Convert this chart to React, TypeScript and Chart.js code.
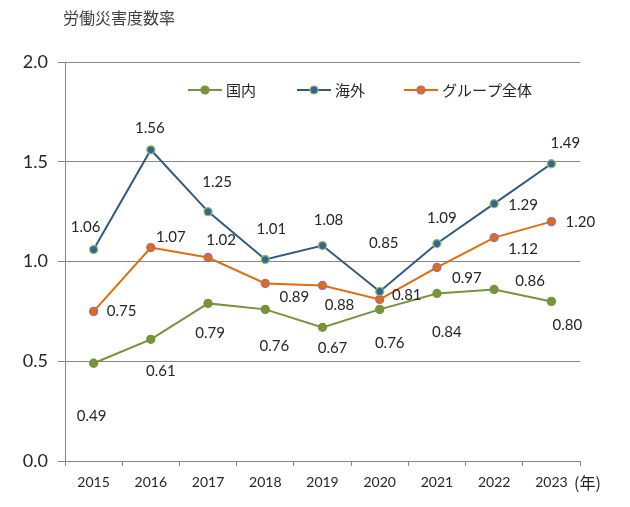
import React, { useRef, useEffect } from "react";
import { Chart, registerables } from "chart.js";

Chart.register(...registerables);

const years = ["2015", "2016", "2017", "2018", "2019", "2020", "2021", "2022", "2023"];
const domestic = [0.49, 0.61, 0.79, 0.76, 0.67, 0.76, 0.84, 0.86, 0.8];
const overseas = [1.06, 1.56, 1.25, 1.01, 1.08, 0.85, 1.09, 1.29, 1.49];
const group = [0.75, 1.07, 1.02, 0.89, 0.88, 0.81, 0.97, 1.12, 1.2];
const yTicks = [0, 0.5, 1.0, 1.5, 2.0];

// label placement (dx, dy from point centre), as hand-placed in the original
const domesticLabelPos = [[-2, 53], [10, 32], [2, 30], [9, 37], [10, 21], [10, 34], [10, 39], [36, -8], [16, 24]];
const overseasLabelPos = [[-8, -22], [-1, -22], [9, -29], [6, -30], [6, -25], [4, -48], [5, -25], [29, 2], [14, -21]];
const groupLabelPos = [[28, 0], [20, -10], [13, -17], [29, 14], [17, 20], [27, -4], [30, 11], [29, 12], [29, 1]];

const GRID = "#878787";
const TEXT = "#262626";
const FONT = "Lato, 'Noto Sans CJK JP', sans-serif";
const JP_FONT = "'Noto Sans CJK JP', Lato, sans-serif";

const labelPlugin = {
  id: "pointLabels",
  afterDatasetsDraw(chart: any) {
    const ctx = chart.ctx;
    ctx.save();
    ctx.font = `15px ${FONT}`;
    ctx.fillStyle = TEXT;
    ctx.textAlign = "center";
    ctx.textBaseline = "middle";
    chart.data.datasets.forEach((ds: any, i: number) => {
      const meta = chart.getDatasetMeta(i);
      meta.data.forEach((pt: any, j: number) => {
        const [dx, dy] = ds.labelPos[j];
        ctx.fillText(Number(ds.data[j]).toFixed(2), pt.x + dx, pt.y + dy);
      });
    });
    ctx.restore();
  },
};

const decorPlugin = {
  id: "decor",
  afterDraw(chart: any) {
    const ctx = chart.ctx;
    const area = chart.chartArea;
    ctx.save();
    // title
    ctx.font = `16px ${JP_FONT}`;
    ctx.fillStyle = "#404040";
    ctx.textAlign = "left";
    ctx.textBaseline = "middle";
    ctx.fillText("労働災害度数率", 63, 18);
    // unit after last category
    ctx.fillStyle = TEXT;
    ctx.fillText("(年)", area.right - 6, 483);
    // legend inside plot
    const items = [
      { x: 188, idx: 0 },
      { x: 297, idx: 1 },
      { x: 404, idx: 2 },
    ];
    const y = 90;
    items.forEach(({ x, idx }) => {
      const ds: any = chart.data.datasets[idx];
      ctx.strokeStyle = ds.borderColor;
      ctx.lineWidth = 2;
      ctx.beginPath();
      ctx.moveTo(x, y);
      ctx.lineTo(x + 34, y);
      ctx.stroke();
      ctx.beginPath();
      ctx.arc(x + 17, y, 4, 0, Math.PI * 2);
      ctx.fillStyle = ds.pointBackgroundColor;
      ctx.fill();
      ctx.lineWidth = 1.2;
      ctx.strokeStyle = ds.pointBorderColor;
      ctx.stroke();
      ctx.fillStyle = TEXT;
      ctx.font = `15px ${JP_FONT}`;
      ctx.textBaseline = "middle";
      ctx.fillText(ds.label, x + 38, y);
    });
    ctx.restore();
  },
};

const App: React.FC = () => {
  const canvasRef = useRef<HTMLCanvasElement | null>(null);
  const chartRef = useRef<Chart | null>(null);

  useEffect(() => {
    if (!canvasRef.current) return;

    chartRef.current = new Chart(canvasRef.current, {
      type: "line",
      data: {
        labels: years,
        datasets: [
          {
            label: "国内",
            data: domestic,
            borderColor: "#77933C",
            pointBackgroundColor: "#77933C",
            pointBorderColor: "#77933C",
            labelPos: domesticLabelPos,
          } as any,
          {
            label: "海外",
            data: overseas,
            borderColor: "#2F5A86",
            pointBackgroundColor: "#31659A",
            pointBorderColor: "#9BBB59",
            labelPos: overseasLabelPos,
          } as any,
          {
            label: "グループ全体",
            data: group,
            borderColor: "#E46C0A",
            pointBackgroundColor: "#E46C0A",
            pointBorderColor: "#9B6AA8",
            labelPos: groupLabelPos,
          } as any,
        ].map((d) => ({
          ...d,
          borderWidth: 2,
          pointRadius: 4,
          pointBorderWidth: 1.3,
          tension: 0,
          fill: false,
        })),
      },
      options: {
        animation: false,
        responsive: true,
        maintainAspectRatio: false,
        layout: { padding: { top: 62, right: 50, left: 0, bottom: 0 } },
        plugins: {
          legend: { display: false },
          tooltip: { enabled: false },
        },
        scales: {
          x: {
            type: "category",
            offset: true,
            grid: { offset: true, drawOnChartArea: false, tickLength: 5, color: GRID },
            border: { color: GRID },
            ticks: { font: { family: FONT, size: 14 }, color: TEXT, padding: 8, maxRotation: 0 },
            afterFit: (s: any) => {
              s.height = 46;
            },
          },
          y: {
            min: 0,
            max: 2,
            afterBuildTicks: (s: any) => {
              s.ticks = yTicks.map((v) => ({ value: v }));
            },
            grid: { color: GRID, tickLength: 7 },
            border: { color: GRID },
            ticks: {
              font: { family: FONT, size: 18 },
              color: TEXT,
              padding: 10,
              callback: (v: any) => Number(v).toFixed(1),
            },
            afterFit: (s: any) => {
              s.width = 65;
            },
          },
        },
      },
      plugins: [labelPlugin, decorPlugin],
    } as any);

    return () => chartRef.current?.destroy();
  }, []);

  return (
    <div style={{ position: "absolute", left: 0, top: 0, width: 630, height: 507, background: "#fff" }}>
      <canvas ref={canvasRef} style={{ width: "100%", height: "100%" }} />
    </div>
  );
};

export default App;
